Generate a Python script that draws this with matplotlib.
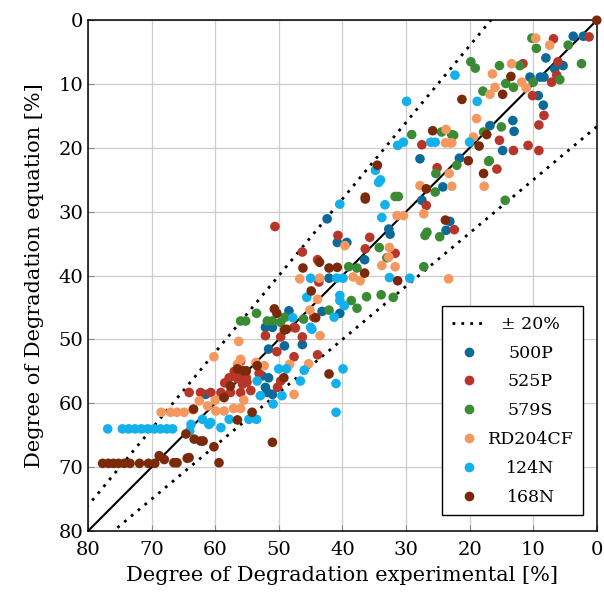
import numpy as np
import matplotlib
matplotlib.use('Agg')
import matplotlib.pyplot as plt
from matplotlib.lines import Line2D

plt.rcParams['font.family'] = ['DejaVu Serif']

# (experimental, equation) pairs per binder
P500 = [(3.7, 2.5), (2.1, 2.5), (8, 5.9), (5.3, 7.1), (6.6, 7.6), (8.9, 8.9), (8.3, 8.9), (10.5, 8.9),
        (9.2, 11.8), (8.4, 13.3), (13.2, 15.7), (13, 17.4), (16.8, 16.5), (14.8, 20.4), (21.6, 21.6),
        (27.8, 21.7), (24.2, 26.1), (27.5, 28.2), (32.7, 32.7), (32.5, 33.5), (23.1, 31.5), (23.7, 32.9),
        (36.5, 37.5), (42.4, 31.1), (40.8, 34.8), (39.3, 34.8), (42.1, 40.4), (43.2, 45.6), (40.4, 45.9),
        (52.1, 48.1), (51, 48.1), (48.4, 45.5), (46.3, 50.8), (51.6, 51.5), (49.1, 51), (52.6, 55.7),
        (51.6, 56), (51.8, 58.3), (51, 58.6), (61.5, 58.6), (52.1, 57.5)]
P525 = [(1.2, 2.6), (6.8, 2.9), (6.1, 6.5), (6.3, 8.6), (7.1, 9.7), (11.6, 6.8), (10.1, 11.8), (8.3, 14.9),
        (9.1, 16.4), (15.3, 18.8), (13.1, 20.4), (10.8, 19.6), (9.1, 20.4), (15.7, 23.3), (27.5, 19.5),
        (25.1, 23.1), (26.8, 29), (22.4, 32.8), (35.7, 34), (36.4, 35.8), (31.7, 36.5), (40.7, 33.7),
        (46.3, 36.3), (43.9, 37.5), (43.7, 41), (44.5, 46.5), (50.6, 32.3), (47.6, 48.1), (52.1, 49.4),
        (49.7, 49.6), (46.3, 49.6), (50.3, 51.9), (47.6, 52.7), (43.9, 52.4), (57.8, 56), (56.5, 56.1),
        (55.1, 56), (56, 53.4), (53.1, 55.3), (55, 56.7), (55.7, 57), (64.1, 58.3), (62.3, 58.3),
        (60.7, 58.3), (59.1, 58.3), (57.6, 58.3), (56, 58.3), (54.4, 58), (49.7, 56.5), (50.2, 57.5),
        (47.4, 48.2), (58.5, 56.8), (57, 55)]
S579 = [(10.2, 2.8), (9.5, 4.4), (4.5, 3.9), (2.4, 6.8), (5.8, 9.3), (10, 9.7), (12.1, 7.1), (15.3, 7.1),
        (19.8, 6.5), (19.1, 7.5), (14.3, 9.9), (17.9, 11.1), (13.1, 10.5), (15, 16.7), (17.8, 17.5),
        (16.9, 22), (22.8, 17.9), (29.1, 17.9), (24.4, 17.5), (22.5, 18), (22, 22.7), (17, 22.1),
        (25.3, 24), (14.4, 28.2), (31.7, 27.6), (31.2, 27.6), (25.4, 26.9), (27, 33.7), (26.7, 33.2),
        (24.7, 33.9), (27.2, 38.6), (33, 37.2), (34.2, 35.6), (39, 38.6), (37.7, 38.8), (38.6, 43.9),
        (37.7, 45.1), (36.2, 43.3), (33.9, 43), (32, 43.4), (42.1, 45.4), (46.1, 46.8), (56, 47.1),
        (55.2, 47.1), (53.5, 45.9), (51.8, 47.1), (51, 47.1), (49.7, 47.3), (49, 46.5)]
RD204CF = [(9.6, 2.8), (7.4, 3.9), (13.4, 6.8), (16.4, 8.4), (11.8, 9.7), (11.1, 10.6), (16, 10.5),
           (16.8, 11.6), (18.9, 15.4), (19.4, 18.3), (23.7, 17.1), (23.1, 19.2), (23.8, 19.2), (22.8, 19.2),
           (23.2, 24), (17.7, 26), (22.8, 26), (27.8, 25.9), (27.2, 30.3), (31.4, 30.6), (30.4, 30.6),
           (39.6, 35.3), (32.6, 35.6), (32.7, 37.1), (33.8, 38.4), (31.7, 38.6), (23.3, 40.5), (38.3, 40.2),
           (37.2, 40.8), (46.7, 40.5), (43.6, 40.4), (43.9, 43.7), (45.1, 45.4), (43.5, 49.4), (56.3, 50.3),
           (60.2, 52.7), (56, 53.1), (56.5, 53.9), (52.3, 54.1), (53.6, 53.6), (45.3, 53.8), (48.3, 53.9),
           (47.6, 58.6), (62.5, 59.6), (61.2, 60.4), (59.9, 61.2), (58.6, 61.2), (57.1, 60.8), (56, 60.8),
           (68.5, 61.4), (67, 61.4), (66, 61.4), (64.9, 61.4), (63.5, 61), (60, 59.5), (55.5, 59.5)]
N124 = [(22.3, 8.6), (18.8, 12.7), (20, 19.1), (29.9, 12.7), (31.3, 19.6), (30.4, 19.1), (26.1, 19.1),
        (25.4, 19.1), (34.8, 23.5), (34, 25), (34.3, 25.4), (33.3, 28.9), (40.4, 28.8), (33.8, 30.9),
        (32.6, 40.3), (29.4, 40.4), (45, 40.4), (40.9, 40.4), (39.9, 40.4), (45.6, 43.4), (40.4, 43.1),
        (40.4, 43.9), (39.7, 44.7), (41.3, 46.5), (47.8, 46.6), (45, 48.1), (44.8, 48.4), (39.9, 54.6),
        (41, 56.9), (41, 61.4), (46.6, 56.5), (46, 54.8), (50, 54.6), (48.8, 54.6), (50.9, 60.1),
        (49.5, 58.8), (53.4, 56.5), (52.9, 58.8), (62, 62.5), (60.7, 63), (59.1, 63.8), (57.8, 62.5),
        (54.7, 62.5), (53.5, 62.5), (63.8, 63.3), (64, 64.3), (61, 63.3), (76.9, 64), (74.6, 64),
        (73.6, 64), (72.6, 64), (71.6, 64), (70.6, 64), (69.6, 64), (68.6, 64), (67.6, 64), (66.7, 64)]
N168 = [(0, 0), (13.5, 8.8), (14.8, 11.6), (21.2, 12.4), (17.3, 17.9), (18.5, 19.7), (20.2, 22),
        (25.8, 17.3), (34.5, 22.7), (17.8, 24), (36.4, 28), (36.4, 27.7), (26.8, 26.4), (23.8, 31.3),
        (43.6, 37.9), (46.2, 38.8), (42.1, 38.8), (40.8, 38.7), (36.5, 39.6), (31.3, 40.8), (44.9, 42.4),
        (44.2, 46.6), (48.8, 48.4), (50.7, 45.2), (50.3, 45.9), (49.1, 48.5), (42.1, 55.4), (56.5, 54.6),
        (55.7, 54.9), (55.1, 54.9), (53.4, 54.1), (49.2, 56), (57.6, 57.3), (58.6, 59.1), (63.4, 60.9),
        (54.2, 61.4), (56.5, 62.6), (64.6, 64.8), (63.3, 65.6), (62.3, 65.9), (61.9, 65.9), (60.2, 66.8),
        (51, 66.1), (64.1, 68.5), (64.4, 68.6), (66.5, 69.3), (66, 69.3), (68.8, 68.2), (68, 68.8),
        (59.4, 69.3), (77.7, 69.4), (76.8, 69.4), (76, 69.4), (75.2, 69.4), (74.3, 69.4), (73.4, 69.4),
        (71.9, 69.4), (70.5, 69.4), (69.5, 69.4)]

SERIES = [('500P', P500, '#0b6a9a'), ('525P', P525, '#b8352a'), ('579S', S579, '#3b8a34'),
          ('RD204CF', RD204CF, '#f5985f'), ('124N', N124, '#12b1ec'), ('168N', N168, '#7a2a08')]
TICKS = [0, 10, 20, 30, 40, 50, 60, 70, 80]

fig = plt.figure(figsize=(6.04, 5.96), dpi=100)
ax = fig.add_axes([0.1457, 0.109, 0.8423, 0.857])

x = np.linspace(0, 80, 200)
ax.plot(x, x, color='black', lw=1.5, zorder=2)
ax.plot(x, 1.2 * x - 20, color='black', lw=2, ls=(0, (1, 2.2)), zorder=2)
ax.plot(x, (x + 20) / 1.2, color='black', lw=2, ls=(0, (1, 2.2)), zorder=2)

for name, pts, col in SERIES:
    pts = np.array(pts)
    ax.scatter(pts[:, 0], pts[:, 1], s=48, color=col, edgecolors='none', zorder=3, clip_on=False)

ax.set_xlim(80, 0)
ax.set_ylim(80, 0)
ax.set_xticks(TICKS)
ax.set_yticks(TICKS)
ax.grid(True, color='#cccccc', lw=0.9)
ax.set_axisbelow(True)
ax.tick_params(direction='in', length=4, labelsize=14, color='#888888')
ax.tick_params(axis='x', pad=7)
for s in ax.spines.values():
    s.set_linewidth(1.1)
ax.set_xlabel('Degree of Degradation experimental [%]', fontsize=15, labelpad=5)
ax.set_ylabel('Degree of Degradation equation [%]', fontsize=15, labelpad=10)

handles = [Line2D([], [], color='black', lw=2, ls=(0, (1, 2.2)))]
labels = ['± 20%']
for name, pts, col in SERIES:
    handles.append(Line2D([], [], ls='none', marker='o', ms=7, color=col, markeredgewidth=0))
    labels.append(name)
leg = ax.legend(handles, labels, loc='lower right', bbox_to_anchor=(0.973, 0.031), fontsize=12.5,
                frameon=True, fancybox=False, edgecolor='black', framealpha=1, handlelength=2.0,
                handletextpad=0.05, labelspacing=0.68, borderpad=0.55, borderaxespad=0)
leg.get_frame().set_linewidth(1.0)

# centre the legend labels in their column, as in the original
fig.canvas.draw()
texts = leg.get_texts()
boxes = [t.get_window_extent() for t in texts]
cx = (min(b.x0 for b in boxes) + max(b.x1 for b in boxes)) / 2
for t, b in zip(texts, boxes):
    fig.text(cx, b.y0, t.get_text(), ha='center', va='bottom', fontsize=12.5,
             transform=None, zorder=10)
    t.set_visible(False)

fig.savefig('out.png', dpi=100)
